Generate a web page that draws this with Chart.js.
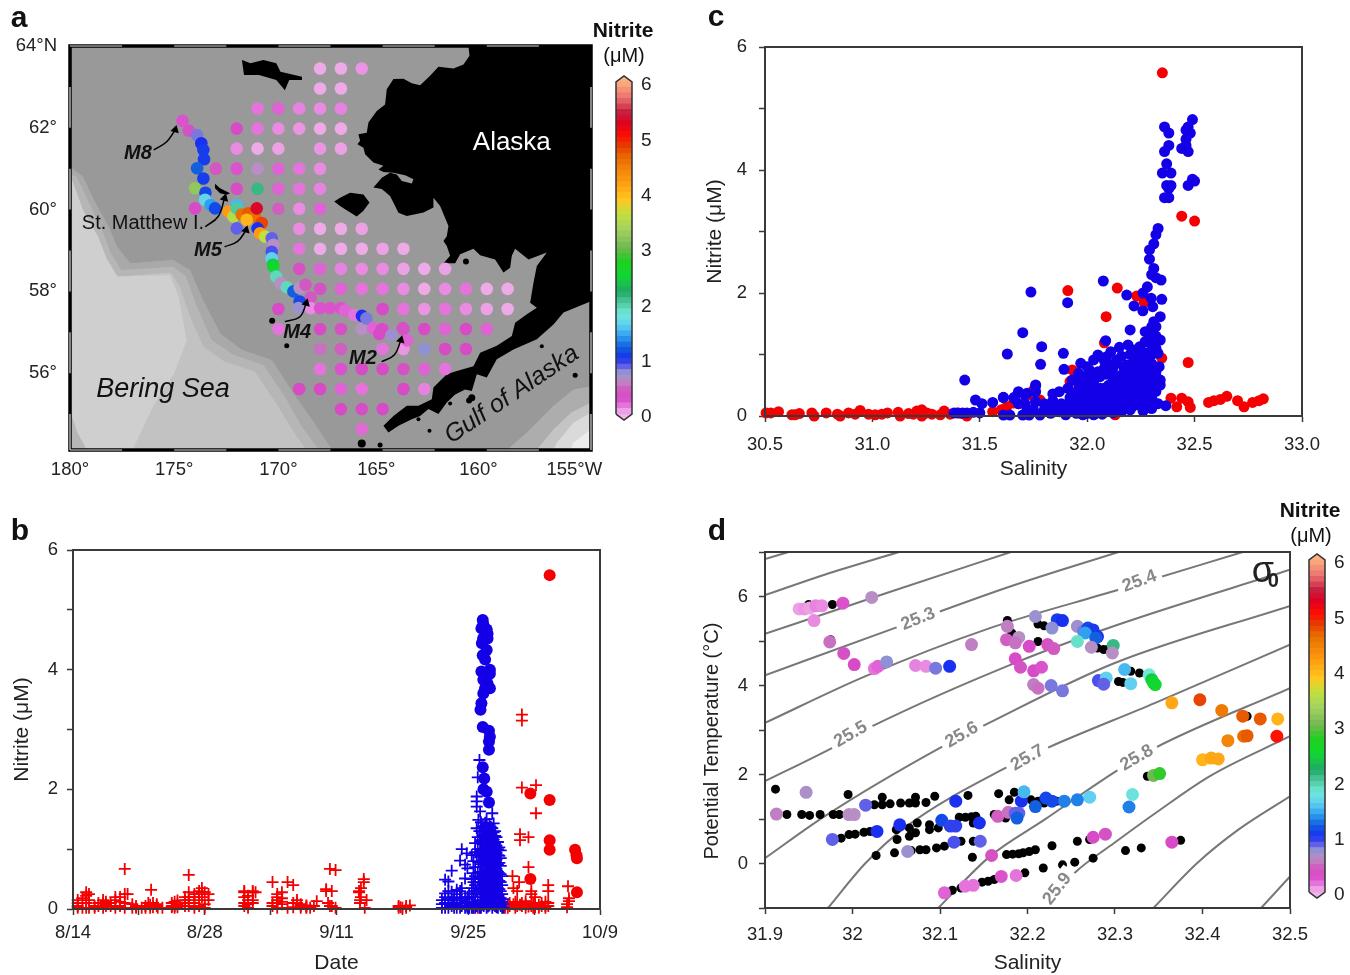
<!DOCTYPE html>
<html>
<head>
<meta charset="utf-8">
<style>
  html, body { margin: 0; padding: 0; background: #fff; }
  #page { position: relative; width: 1350px; height: 975px; overflow: hidden; }
  canvas { position: absolute; }
</style>
<script src="https://cdn.jsdelivr.net/npm/chart.js@4/dist/chart.umd.js"></script>
</head>
<body>
<div id="page"></div>
<script>
// colour scale of nitrite (uM)
const cmapValues = [0, 0.15, 0.28, 0.45, 0.6, 0.75, 0.85, 1.0, 1.2, 1.4, 1.6, 1.8, 2.0, 2.2, 2.5, 2.75, 3.0, 3.3, 3.6, 3.85, 4.2, 4.6, 4.85, 5.0, 5.25, 5.45, 5.7, 6.0];
const cmapColors = ['#f0b8ea', '#e474dc', '#d848c8', '#d060c0', '#b88fc4', '#9090d4', '#6060e8', '#1a30f0', '#1060e0', '#30a0f0', '#60d0f0', '#70e8d8', '#50c8a0', '#20a868', '#10d830', '#20d020', '#70b850', '#a0d060', '#c0e040', '#ffc820', '#ff9a10', '#e87000', '#e83800', '#ff1000', '#e00020', '#c82040', '#e87070', '#ffb080'];
const barTicks = [0, 1, 2, 3, 4, 5, 6];

// panel a: stations, [lat, [[lon, nitrite], ...]]
const gridRows = [
  [63.45, [[168, .03], [167, .03], [166, .08]]],
  [62.96, [[168, .03], [167, .03]]],
  [62.47, [[171, .15], [170, .2], [169, .12], [168, .1], [167, .12]]],
  [61.98, [[172, .3], [171, .15], [170, .1], [169, .08], [168, .03], [167, .03]]],
  [61.49, [[172, .1], [171, .03], [170, .05], [168, .08], [167, .05]]],
  [61.0, [[173, .4], [172, .25], [171, .6], [170, .2], [169, .15], [168, .1]]],
  [60.51, [[172, .32], [171, 2.1], [170, .2], [169, .15], [168, .12]]],
  [60.02, [[170, .45], [169, .1], [168, .2]]],
  [59.53, [[169, .1], [168, .03], [167, .03], [166, .05]]],
  [59.04, [[169, .15], [168, .03], [167, .03], [166, .03], [165, .05], [164, .03]]],
  [58.55, [[169, .35], [168, .2], [167, .12], [166, .1], [165, .1], [164, .05], [163, .03], [162, .05]]],
  [58.06, [[168, .35], [167, .2], [166, .15], [165, .15], [164, .1], [163, .03], [162, .1], [161, .15], [160, .03], [159, .03]]],
  [57.57, [[170, .3], [165, .3], [164, .15], [163, .08], [162, .15], [161, .1], [160, .05], [159, .03]]],
  [57.08, [[170, .15], [168, .3], [167, .35], [166, .6], [165, .25], [164, .35], [163, .3], [162, .2], [161, .3], [160, .2]]],
  [56.59, [[168, .5], [167, .45], [165, .15], [164, .08], [163, .75], [162, .3], [161, .3]]],
  [56.1, [[168, .15], [167, .25], [166, .3], [165, .3], [164, .35], [163, .2], [162, .15]]],
  [55.61, [[169, .3], [168, .3], [167, .2], [166, .15], [164, .3], [163, .12]]],
  [55.12, [[167, .3], [166, .32], [165, .3]]],
  [54.63, [[166, .18]]]
];
// panel a: the transect M8 to M2
const transectLon = [174.6, 174.3, 173.9, 173.7, 173.6, 173.57, 173.9, 173.6, 174, 173.5, 173.52, 173.25, 173.04, 174, 172.4, 172.16, 172, 172, 171.76, 171.44, 171.12, 171.52, 171.04, 170.8, 172, 171, 170.88, 170.64, 170.32, 170.24, 170.32, 170.32, 170.26, 170.24, 170.11, 169.9, 169.6, 169.28, 168.98, 168.7, 168.45, 168.98, 169.04, 168.45, 168.0, 167.52, 167.0, 166.8, 166.35, 165.99, 165.78, 165.46, 165.06, 165.16, 164.58, 164.03, 163.82];
const transectLat = [62.17, 61.93, 61.82, 61.62, 61.46, 61.23, 61.01, 60.76, 60.52, 60.41, 60.24, 60.11, 60.03, 60.03, 59.95, 59.83, 60.11, 60.03, 59.88, 59.91, 59.83, 59.75, 60.03, 59.67, 59.54, 59.54, 59.42, 59.34, 59.3, 59.14, 58.97, 58.81, 58.65, 58.61, 58.36, 58.2, 58.1, 58.0, 58.08, 58.16, 57.85, 57.75, 57.59, 57.59, 57.59, 57.59, 57.59, 57.53, 57.42, 57.4, 57.34, 57.1, 57.06, 56.96, 56.93, 57.1, 56.8];
const transectNitrite = [.25, .35, .8, 1.0, 1.05, 1.05, 1.2, 1.05, 3.2, 1.1, 1.65, 1.4, 1.1, .3, 4.2, 3.5, 1.5, 2.0, 4.6, 4.7, 4.6, 4.0, 5.3, 4.8, .85, 1.0, 4.2, 3.6, .85, .6, .9, 1.6, 2.4, 2.5, 1.9, .6, 1.9, 1.2, .6, .4, .4, 1.1, .7, .1, .25, .25, .25, .2, .15, 1.0, .8, .2, .3, .3, .7, .35, .2];

// panel a: land and bathymetry outlines [lon, lat]
const alaskaCoast = [[160.88, 64], [160.83, 63.76], [161.12, 63.55], [161.6, 63.45], [162.32, 63.49], [162.72, 63.27], [163.2, 63.04], [163.6, 63.09], [164, 63.2], [164.48, 63.19], [164.8, 62.94], [164.88, 62.57], [165.28, 62.41], [165.68, 62.13], [165.76, 61.88], [166.16, 61.84], [166.08, 61.68], [166.21, 61.6], [165.92, 61.51], [165.84, 61.35], [165.44, 61.15], [164.96, 61.07], [165.2, 60.98], [164.96, 60.92], [164.48, 60.9], [163.92, 60.84], [163.52, 60.74], [163.6, 60.64], [164.08, 60.7], [164.32, 60.86], [164.64, 60.9], [165.04, 60.78], [165.44, 60.54], [165.04, 60.5], [164.64, 60.33], [164.24, 59.92], [163.84, 59.84], [163.04, 59.93], [162.56, 60.05], [162.56, 60.29], [162.24, 60.09], [161.84, 59.6], [161.92, 59.35], [162.08, 59.23], [161.92, 59.11],
  [161.76, 58.87], [162.08, 58.69], [161.52, 58.69], [161.28, 58.91], [160.64, 59.04], [160.32, 58.88], [159.6, 58.78], [159.2, 58.46], [158.88, 58.58], [158.8, 58.87], [158.64, 59.04], [158, 58.78], [157.12, 58.95], [157.6, 58.62], [157.76, 58.21], [157.92, 57.72], [157.6, 57.6], [158.08, 57.44], [158.64, 57.23], [158.8, 56.91], [159.52, 56.67], [160.32, 56.5], [160.64, 56.17], [161.44, 56.05], [161.92, 55.97], [162.56, 55.65], [162.64, 55.36], [163.28, 55.2], [163.84, 55.2], [164.48, 54.95], [164.96, 54.71], [164.72, 54.55], [164.24, 54.71], [163.6, 54.87], [163.2, 54.95], [162.8, 55.12], [162.32, 55], [161.92, 55.28], [161.52, 55.48], [161.04, 55.6], [160.72, 55.56], [160.48, 55.97], [160, 55.89], [159.52, 56.34], [158.72, 56.58], [157.6, 56.83], [156.8, 57.19], [156.32, 57.48], [155, 57.76], [155, 64]];
const stLawrence = [[171.75, 63.66], [171.34, 63.58], [170.72, 63.66], [170.1, 63.58], [169.9, 63.37], [168.87, 63.25], [168.87, 63.17], [169.48, 63.17], [169.69, 62.92], [170.1, 63.17], [170.93, 63.29], [171.65, 63.29]];
const nunivak = [[167.32, 60.2], [167.04, 60.29], [166.56, 60.41], [165.92, 60.37], [165.63, 60.17], [165.92, 59.97], [166.24, 59.83], [166.8, 60.01], [167.04, 60.09]];
const stMatthew = [[173.04, 60.63], [172.8, 60.52], [172.32, 60.4], [172.48, 60.36], [172.8, 60.4], [173.04, 60.52]];
const smallIslesLon = [170.3, 169.6, 166, 165.12, 162.75, 163.28, 160.72, 160.85, 161.76, 161, 157.36, 155.76];
const smallIslesLat = [57.28, 56.67, 54.28, 54.24, 54.59, 54.87, 55.4, 55.33, 55.26, 58.73, 56.66, 55.95];
const smallIslesSize = [3, 2.5, 4, 2.5, 2, 2, 3.5, 3, 2, 3, 2, 2.5];
const slopeBand1 = [[180, 61.05], [179.38, 60.81], [178.76, 60.15], [178.14, 59.58], [177.73, 59.09], [177.11, 58.69], [175.05, 58.77], [174.23, 58.52], [173.61, 57.79], [172.78, 56.97], [171.75, 56.57], [170.31, 56.32], [169.28, 55.51], [168.25, 54.77], [167.42, 54.12], [180, 54.12]];
const slopeBand2 = [[180, 60.85], [179.69, 60.81], [179.07, 60.15], [178.45, 59.5], [178.04, 58.93], [177.53, 58.52], [175.05, 58.6], [174.43, 58.36], [173.92, 57.63], [173.2, 56.81], [172.16, 56.45], [170.72, 56.2], [169.69, 55.43], [168.87, 54.69], [168.04, 54.12], [180, 54.12]];
const slopeBand3 = [[179.9, 60.72], [179.38, 59.99], [178.66, 59.34], [178.25, 58.81], [177.73, 58.36], [175.15, 58.46], [174.74, 58.12], [174.23, 57.38], [173.61, 56.65], [172.58, 56.28], [171.13, 56.04], [170.1, 55.26], [169.28, 54.57], [168.66, 54.12], [179.18, 54.12], [179.63, 54.53], [179.9, 54.94]];
const slopeBand4 = [[179.9, 60.72], [179.38, 59.99], [178.66, 59.34], [178.25, 58.81], [177.73, 58.36], [175.2, 58.4], [174.8, 57.9], [174.4, 56.8], [175, 56], [176, 55.2], [177, 54.12], [179.18, 54.12], [179.63, 54.53], [179.9, 54.94]];
const gulfBand1 = [[155, 55.68], [155.84, 55.6], [156.8, 55.2], [158.08, 54.55], [159.04, 54.12], [155, 54.12]];
const gulfBand2 = [[155, 55.28], [155.96, 55.03], [156.8, 54.63], [157.6, 54.12], [155, 54.12]];
const gulfBand3 = [[155, 55.03], [155.84, 54.79], [156.64, 54.3], [156.8, 54.12], [155, 54.12]];
const gulfBand4 = [[155, 54.63], [155.84, 54.3], [156, 54.12], [155, 54.12]];
const mapBox = [[180, 64], [155, 64], [155, 54.12], [180, 54.12]];
const mapArrows = [
  [[175.98, 61.46], [175.36, 61.66], [174.95, 61.95]],
  [[173.51, 59.58], [172.89, 59.83], [172.58, 60.28]],
  [[172.58, 59.09], [171.96, 59.22], [171.55, 59.5]],
  [[169.69, 57.26], [168.97, 57.38], [168.66, 57.71]],
  [[165.05, 56.28], [164.43, 56.45], [164.12, 56.81]]
];
const lonTicks = [180, 175, 170, 165.3, 160.4, 155.8];
const lonLabels = ['180°', '175°', '170°', '165°', '160°', '155°W'];
const latTicks = [64, 62, 60, 58, 56];
const latLabels = ['64°N', '62°', '60°', '58°', '56°'];

// panel b: days since 8/14, [day, [nitrite, ...]]
const dateLabels = ['8/14', '8/28', '9/11', '9/25', '10/9'];
const redCrossByDay = [
  [.5, [.02, .1, .15, .05]], [1, [.02, .18]], [1.4, [.28, .22, .1, .02]], [1.7, [.02, .15, .25]], [2.3, [.02, .05]], [2.7, [.05, .1]], [3.2, [.02, .1, .15]], [3.5, [.05, .12, .08]], [4, [.1, .05]],
  [4.5, [.02, .15, .2]], [5, [.05, .2, .12]], [5.5, [.02, .25, .1, .67]], [5.8, [.25]], [6.3, [.08, .02]], [6.7, [.05, .02]], [7.3, [.02]], [7.7, [.05, .02]], [8, [.1]], [8.2, [.02, .07]], [8.3, [.32]], [8.5, [.03, .1]], [8.9, [.05, .08]], [9, [.02]], [9.5, [.02]],
  [10.5, [.03, .05, .1]], [10.8, [.12, .02, .05]], [11.1, [.08, .03, .14]], [11.9, [.05, .1, .15, .2]], [12.3, [.57, .28, .2, .1, .05, .15]], [12.9, [.02, .1, .2, .25]], [13.4, [.05, .15, .3, .25]], [13.7, [.35, .2, .28]], [14, [.02, .08, .28]], [14.4, [.25, .15]],
  [18.2, [.05, .1, .2, .28, .3]], [18.6, [.02, .08, .15, .22]], [19.1, [.15, .28, .3, .1]], [19.4, [.28]], [21.2, [.05, .1, .45]], [21.7, [.02, .1, .15, .2, .25]], [22.2, [.08, .12, .28, .18]], [22.8, [.02, .45]], [23.4, [.03, .1, .4]], [23.8, [.1, .15]], [24.2, [.02, .05, .08]], [24.8, [.02, .04, .06]], [25.2, [.02]], [25.6, [.05]], [25.9, [.13]],
  [26.9, [.33, .3]], [27.1, [.1]], [27.3, [.05, .67]], [27.5, [.05, .3]], [27.9, [.65, .02]], [30.4, [.28, .3]], [30.5, [.1, .15]], [30.6, [.35, .2]], [30.9, [.45, .5]], [31, [.02]], [31.2, [.15]],
  [34.6, [.02, .05]], [34.8, [.03]], [35, [.02]], [35.4, [.02, .05]], [35.8, [.06]], [42.5, [.02, .05]], [43, [.02]], [43.3, [.03]],
  [45.9, [.02, .05]], [46.2, [.08, .02]], [46.4, [.05, .1]], [46.7, [.55]], [46.8, [.35, .08]], [47, [.02, .12]], [47.2, [.3, .1, .05]], [47.4, [.45]], [47.5, [1.25, 1.15, .07]], [47.7, [3.25, 3.15, 2.03, .1, .05]], [48.1, [.02, .08, .13]], [48.4, [1.2, .7, .04]], [48.7, [.3, .25, .05]], [48.9, [.09, .02]], [49.1, [.2, .1, .03]], [49.2, [2.07, 1.6]], [49.5, [.07, .02]], [49.8, [.05, .1]], [50.2, [.05, .02, .12]], [50.5, [.4, .3, .1, .05]], [52.5, [.08, .03]], [52.6, [.38]], [52.7, [.18, .13]]
];
const blueCrossByDay = [
  [39.2, [.02, .08, .15]], [39.54, [.02, .1, .2, .26, .49]], [39.89, [.02, .1, .17, .3, .46]], [40.24, [.05, .15, .29, .64]], [40.5, [.02, .08, .14, .2]], [40.78, [.02, .1, .25, .32]], [41.13, [.02, .1, .18, .3, .81]], [41.31, [1.0, .35, .15, .05]], [41.66, [.74, .51, .02, .1, .2]], [41.84, [.93, .12, .06]], [41.91, [.68, .2, .02]], [42.1, [.02, .09, .17, .26]], [42.37, [.9, .35, .02, .12, .2, .5]], [42.55, [.02, .08, .3, .45, .6, .8]],
  [42.73, [1.1, .95, .7, .55, .4, .25, .1, .02]], [42.9, [1.88, 1.8, 1.71, 1.35, .9, .3, .05]], [43.01, [2.2, 1.2, 1.0, .6, .15]], [43.08, [1.49, .78, .45]], [43.19, [2.49, 1.3, .92, .52, .02]], [43.26, [1.63, 1.12, .7, .33, .1]],
  [43.35, [.02, .1, .2, .35, .5, .62, .75, .88, 1.0, 1.15, 1.3, 1.45]], [43.5, [.07, .26, .43, .58, .8, .97, 1.09, 1.23, 1.38]], [43.65, [.05, .14, .28, .4, .55, .7, .82, .95, 1.08, 1.2, 1.35]], [43.8, [.11, .22, .37, .5, .66, .79, .91, 1.03, 1.17, 1.31, 1.44]], [43.95, [.02, .1, .22, .33, .48, .6, .72, .85, .98, 1.1, 1.25, 1.4, 1.5]], [44.1, [.04, .17, .31, .46, .59, .74, .87, 1.0, 1.14, 1.27]],
  [44.25, [.06, .18, .3, .42, .52, .65, .78, .9, 1.02, 1.18, 1.3, 1.42]], [44.4, [.09, .24, .36, .49, .63, .76, .84, .97, 1.11, 1.24, 1.37]], [44.55, [.02, .12, .25, .38, .5, .6, .7, .8, .92, 1.05, 1.2, 1.35, 1.6]], [44.7, [.07, .2, .34, .46, .57, .73, .86, 1.0, 1.16, 1.28, 1.43]], [44.85, [.05, .15, .28, .4, .55, .68, .8, .95, 1.1, 1.22, 1.3]], [45, [.03, .13, .26, .41, .53, .67, .83, .94, 1.06, 1.2]],
  [45.15, [.02, .1, .22, .35, .48, .62, .75, .9, 1.0, 1.12]], [45.3, [.08, .19, .33, .47, .6, .77, .89, 1.03]], [45.45, [.05, .18, .3, .45, .58, .72, .85, .98]], [45.6, [.02, .12, .25, .4, .55]], [45.75, [.02, .08, .16]]
];
const blueCircleDay = [43.54, 43.4, 43.6, 43.96, 44.05, 43.58, 44.05, 43.45, 43.96, 43.54, 43.79, 43.4, 44.3, 43.79, 44.3, 43.6, 44.05, 44.3, 43.79, 43.6, 43.4, 43.3, 43.54, 44.2, 44.3, 44.2, 44.2, 43.54, 43.7, 43.62, 43.96, 44.2];
const blueCircleNitrite = [4.83, 4.69, 4.76, 4.67, 4.6, 4.52, 4.52, 4.44, 4.33, 4.24, 4.17, 3.97, 4.0, 3.94, 3.93, 3.83, 3.77, 3.69, 3.69, 3.6, 3.44, 3.33, 3.04, 2.98, 2.88, 2.8, 2.66, 2.37, 2.18, 2.0, 1.96, 1.78];
const redCircleDay = [50.65, 50.65, 50.65, 50.65, 48.6, 48.6, 53.35, 53.5, 53.55, 53.55];
const redCircleNitrite = [5.58, 1.82, 1.15, .99, 1.93, .5, .99, .9, .85, .28];

// panel c: salinity against nitrite
const redSalinity = [30.505, 30.527, 30.563, 30.625, 30.64, 30.66, 30.718, 30.729, 30.785, 30.837, 30.85, 30.889, 30.92, 30.943, 30.982, 31.013, 31.044, 31.07, 31.12, 31.129, 31.168, 31.191, 31.207, 31.23, 31.23, 31.254, 31.277, 31.316, 31.334, 31.362, 31.393, 31.417, 31.44, 31.56, 31.6, 31.625, 31.656, 31.68, 31.73, 31.75, 31.78, 31.83, 31.87, 31.93, 31.92, 31.94, 32.03, 32.06, 32.09, 32.08, 32.088, 32.14, 32.23, 32.265, 31.91, 32.13, 32.176, 32.215, 32.347, 32.39, 32.417, 32.44, 32.47, 32.48, 32.565, 32.35, 32.44, 32.5, 32.47, 32.59, 32.62, 32.65, 32.7, 32.73, 32.77, 32.8, 32.82];
const redSalNitrite = [.05, .05, .07, .02, .02, .04, .05, 0, .05, .03, 0, .05, .03, .09, .03, .02, .03, .05, .06, 0, .04, .03, .08, .1, 0, .05, .03, .02, .08, .03, .05, .04, 0, .07, .1, .15, .21, .2, .34, .42, .26, .18, .1, .75, .56, .07, .37, .32, .29, 1.19, 1.615, 2.08, 1.95, 1.85, 2.04, .02, .61, .64, .94, .29, .15, .29, .23, .14, .22, 5.58, 3.25, 3.17, .87, .25, .27, .32, .25, .15, .22, .25, .28];
const blueSparseSal = [31.38, 31.4, 31.42, 31.44, 31.47, 31.5, 31.43, 31.48, 31.51, 31.56, 31.61, 31.66, 31.76, 31.628, 31.7, 31.738, 31.783, 31.788, 31.889, 31.892, 31.909, 32.075, 32.184, 32.218, 32.259, 32.298, 32.305, 32.347, 32.344, 32.2, 32.086,
  32.49, 32.47, 32.48, 32.46, 32.46, 32.44, 32.46, 32.47, 32.36, 32.38, 32.38, 32.36, 32.37, 32.39, 32.35, 32.39, 32.38, 32.37, 32.36, 32.38, 32.49, 32.5, 32.47, 32.33, 32.32, 32.31, 32.29, 32.29, 32.31, 32.3, 32.32, 32.28, 32.26, 32.366];
const blueSparseNitrite = [.05, .05, .05, .05, .06, .05, .585, .26, .2, .22, .3, .3, .49, 1.008, 1.355, 2.016, .84, 1.127, 1.019, .759, 1.843, 2.195, 1.967, 1.789, 1.71, 1.913, 1.778, 1.897, 2.21, 1.4, 1.225,
  4.82, 4.7, 4.6, 4.65, 4.5, 4.35, 4.4, 4.3, 4.7, 4.6, 4.4, 4.3, 4.1, 3.95, 3.95, 3.75, 3.7, 3.75, 3.55, 3.55, 3.85, 3.82, 3.75, 3.05, 2.95, 2.8, 2.7, 2.55, 2.4, 2.3, 2.25, 2.1, 2.0, .168];
// the dense part of panel c, read as chains of dots
const blueCloudSal = [31.61, 31.64, 31.7, 31.73, 31.78, 31.83, 31.87, 31.92, 31.97, 32.01, 32.06, 32.11, 32.15, 32.19, 32.22, 31.95, 32, 32.04, 32.09, 32.13, 32.17, 32.21, 31.9, 31.98, 32.03, 32.07, 32.12, 32.16,
  31.61, 31.66, 31.68, 31.71, 31.71, 31.76, 31.76, 31.76, 31.84, 31.87, 31.91, 31.95, 31.98, 31.98, 32.03, 32.08, 31.94, 31.91, 31.84, 31.8, 31.75,
  31.97, 32, 31.96, 31.98, 32.01, 32.03, 32.05, 32.09, 32.11, 32.15, 32.19, 32.215, 32.245, 32.27, 32.27, 32.31, 32.34, 32.32, 32.34, 32.33, 32.335, 32.34, 32.34,
  32.106, 32.137, 32.185, 32.22, 32.245, 32.277, 32.106, 32.06, 32.03, 31.96, 32, 31.93, 32.13, 32.176, 32.215, 32.246, 32.277, 32.3, 32.153, 32.2, 32.12, 32.106, 32.238, 32.277, 32.184, 32.223, 32.277, 32.293,
  32.06, 32.1, 32.03, 32, 32.15, 32.25, 32.28, 32.25, 32.27, 32.29, 32.2, 32.18, 32.12, 32.08, 31.66, 31.68, 31.72, 31.82, 31.85, 31.76,
  31.86, 31.89, 31.93, 31.96, 31.99, 32.02, 32.05, 32.08, 32.1, 32.14, 32.18, 32.2, 32.24, 32.26, 32.28, 32.3, 32.26, 32.3, 32.32, 32.33, 32.18, 32.14, 32.1, 32.05, 32.24, 32.22, 32.18, 32.14, 32.03, 32, 32.05, 32.09, 32.12, 32.15, 32.18, 32.22, 32.26, 32.3, 32.32, 32.3, 32.27, 32.24, 32.27, 32.3, 32.3, 32.32, 32.29, 32.32, 32.3, 32.2, 32.16, 32.13, 32.24, 32.17, 32.08, 31.96, 31.99, 32.02, 31.92, 31.88, 31.84, 31.8, 31.72,
  31.98, 32, 32.04, 32.07, 32.11, 32.16, 32.19, 32.23, 32.26, 32.29, 32.31, 32.12, 32.16, 32.2, 32.25, 32.28, 32.31, 32.33, 32.07, 32.12, 32.04, 32.17, 32.21, 32.25, 32.29, 32.27];
const blueCloudNitrite = [.016, .016, .016, .016, .016, .043, .07, .098, .125, .152, .179, .206, .233, .26, .287, .043, .043, .043, .07, .098, .125, .152, .02, .02, .02, .03, .05, .07,
  .304, .287, .396, .341, .195, .504, .396, .233, .358, .396, .45, .369, .341, .233, .26, .45, .233, .179, .152, .098, .098,
  .856, .802, .694, .64, .748, .911, .992, .965, 1.046, 1.117, 1.155, 1.073, 1.128, 1.209, 1.371, 1.534, 1.615, 1.453, 1.236, 1.019, .802, .585, .504,
  .829, .911, .829, .911, .802, .911, .721, .64, .558, .558, .504, .585, .504, .477, .531, .558, .558, .558, .369, .396, .287, .369, .423, .504, .585, .667, .287, .297,
  .45, .5, .4, .3, .65, .7, .7, .3, .4, .45, .7, .72, .78, .78, .3, .2, .37, .1, .08, .23,
  .1, .06, .14, .2, .1, .24, .12, .2, .12, .17, .22, .1, .18, .08, .2, .12, .24, .3, .4, .2, .33, .3, .35, .33, .33, .4, .42, .43, .65, .62, .72, .68, .62, .58, .62, .6, .62, .64, .72, .85, .78, .9, 1.03, 1.0, 1.15, 1.1, 1.3, 1.3, 1.45, 1.0, .97, .85, 1.02, .8, .9, .45, .43, .47, .3, .2, .25, .2, .12,
  .16, .22, .16, .26, .27, .27, .33, .26, .15, .28, .22, .4, .38, .47, .5, .35, .5, .6, .38, .42, .3, .7, .75, .85, .62, .9];

// panel d: density contours [salinity, temperature]
const sigmaLines = [
  [[31.9, 6.84], [31.927, 7]],
  [[31.9, 6.03], [31.968, 6.49], [32.053, 7]],
  [[31.9, 5.16], [32.039, 6.08], [32.181, 7]],
  [[31.9, 4.23], [32.048, 5.29], [32.181, 6.23], [32.304, 7]],
  [[31.9, 3.16], [32.015, 4.21], [32.157, 5.29], [32.304, 6.15], [32.446, 7]],
  [[31.9, 1.85], [31.977, 2.6], [32.022, 3.08], [32.186, 4.51], [32.304, 5.37], [32.5, 6.6]],
  [[31.9, .12], [31.968, 1.06], [32.1, 2.6], [32.148, 3.08], [32.299, 4.5], [32.5, 5.79]],
  [[31.972, -1], [32.015, .01], [32.062, .84], [32.178, 2.18], [32.223, 2.6], [32.346, 3.61], [32.5, 4.92]],
  [[32.098, -1], [32.157, .16], [32.219, .98], [32.304, 2.11], [32.346, 2.6], [32.5, 3.94]],
  [[32.219, -1], [32.254, -.21], [32.299, .46], [32.346, 1.13], [32.408, 1.96], [32.5, 2.86]],
  [[32.344, -1], [32.394, .01], [32.441, .76], [32.5, 1.51]],
  [[32.467, -1], [32.5, -.29]]
];
const sigmaLabels = ['25.3', '25.4', '25.5', '25.6', '25.7', '25.8', '25.9'];
const sigmaLabelSal = [32.075, 32.328, 31.998, 32.125, 32.2, 32.325, 32.234];
const sigmaLabelTemp = [5.49, 6.34, 2.9, 2.89, 2.37, 2.37, -.57];
const sigmaLabelAngle = [-22, -20, -30, -30, -30, -30, -52];

const blackSal = [31.912, 31.925, 31.942, 31.951, 31.963, 31.978, 31.985, 31.995, 32.034, 32.025, 32.034, 32.043, 32.055, 32.065, 32.072, 32.072, 32.084, 32.094, 32.132, 32.167, 32.179, 32.185, 32.204, 32.212, 32.219, 32.233, 31.987, 31.996, 32.003, 32.013, 32.02, 32.05, 32.065, 32.074, 32.051, 32.065, 32.072, 32.088, 32.088, 32.098, 32.11, 32.122, 32.129, 32.136, 32.141, 32.138, 32.162, 32.175, 32.027, 32.048, 32.067, 32.077, 32.084, 32.096, 32.105, 32.124, 32.138, 32.137, 32.176, 32.183, 32.19, 32.195, 32.202, 32.209, 32.228, 32.257, 32.271, 32.312, 32.33, 32.375, 32.114, 32.124, 32.148, 32.155, 32.162, 32.197, 32.218, 32.24, 32.254, 32.275, 31.95, 31.977, 31.975, 32.177, 32.182, 32.212, 32.219, 32.212, 32.28, 32.287, 32.292, 32.318, 32.328, 32.304, 32.309, 32.451, 32.337];
const blackTemp = [1.67, 1.1, 1.1, 1.08, 1.1, 1.1, 1.1, 1.55, 1.49, 1.32, 1.32, 1.34, 1.36, 1.36, 1.49, 1.36, 1.37, 1.51, 1.53, 1.57, 1.43, 1.6, 1.43, 1.4, 1.36, 1.4, .57, .65, .66, .7, .72, .76, .8, .91, .54, .61, .69, .87, .76, .8, .82, 1.04, 1.04, 1.05, 1.06, .91, 1.1, 1.02, .18, .24, .29, .31, .31, .35, .39, .5, .5, .14, .2, .21, .22, .24, .27, .31, .4, .5, .54, .29, .35, .52, -.6, -.55, -.42, -.4, -.36, -.21, -.1, -.03, .03, .12, 5.82, 5.82, 5.03, 5.46, 5.18, 5.38, 5.34, 4.99, 4.84, 4.81, 4.81, 4.32, 4.28, 4.09, 4.07, 3.31, 1.96];
const dotSal = [31.939, 31.945, 31.951, 31.958, 31.965, 31.989, 32.022, 31.956, 31.974, 31.99, 32.002, 32.025, 32.029, 32.039, 32.072, 32.084, 32.095, 32.111, 32.136, 32.177, 32.209, 32.234, 32.24, 32.228, 32.176, 32.19, 32.186, 32.202, 32.223, 32.23, 32.186, 32.192, 32.207, 32.216, 32.207, 32.212, 32.227, 32.24, 32.257, 32.264, 32.269, 32.275, 32.266, 32.28, 32.278, 32.257, 32.273, 32.298, 32.297, 32.311, 32.281, 32.29, 32.287, 32.318, 32.339, 32.342, 32.344, 32.346, 32.365, 32.397, 32.422, 32.446, 32.466, 32.486, 32.447, 32.451, 32.429, 32.485, 32.4, 32.41, 32.418, 32.344, 32.351, 32.32, 32.316, 32.271, 32.257, 32.242, 32.228, 32.221, 32.209, 32.193, 32.196, 32.118, 32.015, 31.947, 31.913, 31.996, 32.002, 31.977, 32.028, 32.054, 32.102, 32.112, 32.118, 32.145, 32.166, 32.178, 32.186, 32.19, 32.188, 32.063, 32.116, 32.146, 32.159, 32.275, 32.289, 32.365, 32.105, 32.129, 32.138, 32.17, 32.187];
const dotTemp = [5.72, 5.72, 5.74, 5.79, 5.79, 5.85, 5.98, 5.46, 4.98, 4.72, 4.47, 4.38, 4.43, 4.53, 4.45, 4.43, 4.39, 4.43, 4.92, 5.33, 5.55, 5.48, 5.46, 5.29, 5.03, 5.08, 4.96, 4.88, 4.92, 4.83, 4.6, 4.41, 4.33, 4.41, 4.02, 3.94, 4.0, 3.88, 5.33, 5.22, 5.29, 5.25, 5.18, 5.1, 5.07, 4.99, 4.86, 4.9, 4.73, 4.36, 4.11, 4.17, 4.03, 4.04, 4.24, 4.13, 4.06, 4.02, 3.61, 3.68, 3.44, 3.31, 3.25, 3.25, 2.86, 2.87, 2.76, 2.86, 2.33, 2.37, 2.35, 1.98, 2.02, 1.55, 1.27, 1.49, 1.43, 1.4, 1.4, 1.47, 1.28, 1.4, 1.61, 1.4, 1.31, 1.6, 1.11, 1.1, 1.1, .54, .72, .87, .97, .84, .84, .91, 1.06, 1.15, 1.13, 1.13, 1.02, .27, .48, .5, .18, .59, .66, .48, -.66, -.51, -.49, -.29, -.27];
const dotNitrite = [.05, .08, .05, .12, .1, .25, .6, .1, .5, .35, .3, .15, .2, .75, .12, .1, .8, 1.0, .55, .55, .7, 1.05, 1.0, .75, .45, .6, .5, .3, .35, .4, .3, .35, .3, .25, .55, .5, .8, .8, .7, .8, 1.1, 1.05, 1.4, 1.0, 1.2, 1.85, .6, 2.1, .6, 1.5, .9, 1.6, .85, 1.6, 1.8, 2.4, 2.5, 2.5, 4.1, 4.8, 4.5, 4.7, 4.7, 4.0, 4.6, 4.7, 4.4, 5.0, 4.0, 4.1, 4.1, 3.0, 2.8, 1.75, 1.3, 1.6, 1.3, 1.3, 1.1, 1.1, 1.2, 1.0, 1.5, 1.0, .85, .65, .55, .6, .6, .85, 1.0, 1.0, 1.1, .95, .95, 1.0, .45, .5, .85, .85, 1.2, .7, .9, .85, .35, .3, .35, .3, .2, .15, .15, .25, .15];

const axisColor = '#3a3a3a';
const tickFont = { family: '"Liberation Sans"', size: 18.5 };
const titleFont = { family: '"Liberation Sans"', size: 21 };

function hexToRgb(h) {
  return [1, 3, 5].map(i => parseInt(h.substr(i, 2), 16));
}

function nitriteColor(v) {
  let i = 0;
  while (i < cmapValues.length - 2 && v > cmapValues[i + 1]) i++;
  const t = Math.max(0, Math.min(1, (v - cmapValues[i]) / (cmapValues[i + 1] - cmapValues[i])));
  const a = hexToRgb(cmapColors[i]), b = hexToRgb(cmapColors[i + 1]);
  return 'rgb(' + a.map((c, k) => Math.round(c + (b[k] - c) * t)).join(',') + ')';
}

function pairsToPoints(pairs) {
  return pairs.map(p => ({ x: p[0], y: p[1] }));
}

function zipPoints(xs, ys) {
  return xs.map((x, i) => ({ x: x, y: ys[i] }));
}

function columnsToPoints(cols) {
  const out = [];
  cols.forEach(c => c[1].forEach(v => out.push({ x: c[0], y: v })));
  return out;
}

function polygon(pairs, color, order) {
  return { type: 'line', data: pairsToPoints(pairs), fill: 'shape', backgroundColor: color, borderColor: color, borderWidth: 0, pointRadius: 0, order: order };
}

// frame on the two sides that have no axis, and free text placed in data units
const panelPlugin = {
  id: 'panel',
  afterDatasetsDraw(chart, args, opts) {
    const ctx = chart.ctx, a = chart.chartArea;
    const sx = chart.scales.x, sy = chart.scales.y;
    (opts.boxes || []).forEach(b => {
      ctx.save();
      ctx.translate(sx.getPixelForValue(b.x), sy.getPixelForValue(b.y));
      ctx.rotate(b.angle * Math.PI / 180);
      ctx.fillStyle = '#fff';
      ctx.fillRect(-b.w / 2, -10, b.w, 20);
      ctx.restore();
    });
    if (opts.fancyFrame) {
      ctx.save();
      ctx.strokeStyle = '#000';
      ctx.lineWidth = 3.5;
      ctx.strokeRect(a.left, a.top, a.right - a.left, a.bottom - a.top);
      ctx.strokeStyle = '#ddd';
      ctx.lineWidth = 1.2;
      ctx.setLineDash(opts.fancyFrame[0]);
      ctx.beginPath();
      ctx.moveTo(a.left, a.top); ctx.lineTo(a.right, a.top);
      ctx.moveTo(a.left, a.bottom); ctx.lineTo(a.right, a.bottom);
      ctx.stroke();
      ctx.setLineDash(opts.fancyFrame[1]);
      ctx.lineDashOffset = opts.fancyFrame[1][0];
      ctx.beginPath();
      ctx.moveTo(a.left, a.top); ctx.lineTo(a.left, a.bottom);
      ctx.moveTo(a.right, a.top); ctx.lineTo(a.right, a.bottom);
      ctx.stroke();
      ctx.restore();
    } else if (opts.frame !== false) {
      ctx.save();
      ctx.strokeStyle = axisColor;
      ctx.lineWidth = 2;
      ctx.strokeRect(a.left, a.top, a.right - a.left, a.bottom - a.top);
      ctx.restore();
    }
    (opts.texts || []).forEach(t => {
      ctx.save();
      ctx.translate(sx.getPixelForValue(t.x), sy.getPixelForValue(t.y));
      ctx.rotate((t.angle || 0) * Math.PI / 180);
      ctx.font = t.font;
      ctx.fillStyle = t.color || '#111';
      ctx.textAlign = 'center';
      ctx.textBaseline = 'middle';
      ctx.fillText(t.text, 0, 0);
      ctx.restore();
    });
  }
};

const page = document.getElementById('page');

function clearPadding(s) {
  s.paddingTop = 0;
  s.paddingBottom = 0;
  s.paddingLeft = 0;
  s.paddingRight = 0;
}

// box is the wanted plot area in page pixels, margins leave room for the axes
function addChart(box, margin, config) {
  const c = document.createElement('canvas');
  c.width = box.r - box.l + margin.l + margin.r;
  c.height = box.b - box.t + margin.t + margin.b;
  c.style.left = (box.l - margin.l) + 'px';
  c.style.top = (box.t - margin.t) + 'px';
  page.appendChild(c);
  const o = config.options;
  const onRight = o.scales.y.position === 'right';
  o.responsive = false;
  o.animation = false;
  o.events = [];
  o.layout = { padding: { top: margin.t, bottom: o.scales.x.display === false ? margin.b : 0, right: onRight ? 0 : margin.r, left: onRight ? margin.l : 0 } };
  o.plugins = Object.assign({ legend: { display: false }, tooltip: { enabled: false } }, o.plugins);
  o.scales.x.afterFit = s => { s.height = margin.b; clearPadding(s); };
  o.scales.y.afterFit = s => { s.width = onRight ? margin.r : margin.l; clearPadding(s); };
  config.plugins = [panelPlugin];
  return new Chart(c, config);
}

function sciAxis(min, max, ticks, labelFn, pad, title) {
  const ax = {
    type: 'linear', min: min, max: max,
    afterBuildTicks: s => { s.ticks = ticks.map(v => ({ value: v })); },
    ticks: { autoSkip: false, maxRotation: 0, minRotation: 0, font: tickFont, color: '#222', padding: pad, callback: labelFn },
    grid: { drawOnChartArea: false, color: axisColor, tickLength: 6, tickWidth: 1.5 },
    border: { color: axisColor, width: 2 }
  };
  if (title) ax.title = { display: true, text: title.text, font: titleFont, color: '#222', padding: title.padding };
  return ax;
}

function evenLabel(v) {
  return v % 2 === 0 ? String(v) : '';
}

// ---------- panel a ----------
const gridPoints = [];
const gridColors = [];
gridRows.forEach(row => row[1].forEach(s => {
  gridPoints.push({ x: s[0], y: row[0] });
  gridColors.push(nitriteColor(s[1]));
}));

const mapDatasets = [
  polygon(mapBox, '#999999', 20),
  polygon(slopeBand1, '#a9a9a9', 19), polygon(slopeBand2, '#b6b6b6', 18), polygon(slopeBand3, '#c2c2c2', 17), polygon(slopeBand4, '#cfcfcf', 16),
  polygon(gulfBand1, '#adadad', 19), polygon(gulfBand2, '#c4c4c4', 18), polygon(gulfBand3, '#dadada', 17), polygon(gulfBand4, '#ececec', 16),
  polygon(alaskaCoast, '#000', 10), polygon(stLawrence, '#000', 10), polygon(nunivak, '#000', 10), polygon(stMatthew, '#000', 10),
  { data: zipPoints(smallIslesLon, smallIslesLat), backgroundColor: '#000', pointRadius: smallIslesSize, borderWidth: 0, order: 10 },
  { data: gridPoints, backgroundColor: gridColors, pointRadius: 6.3, borderWidth: 0, order: 6 },
  { data: zipPoints(transectLon, transectLat), backgroundColor: transectNitrite.map(nitriteColor), pointRadius: 6.3, borderWidth: 0, order: 5 }
];
mapArrows.forEach(a => {
  mapDatasets.push({
    type: 'line', data: pairsToPoints(a), borderColor: '#000', backgroundColor: '#000', borderWidth: 1.5, tension: 0.4, order: 1,
    pointRadius: [0, 0, 5], pointStyle: 'triangle', pointRotation: [0, 0, 15], pointBorderWidth: 0
  });
});

addChart({ l: 70, t: 46, r: 591, b: 450 }, { l: 70, t: 10, r: 15, b: 45 }, {
  type: 'scatter',
  data: { datasets: mapDatasets },
  options: {
    plugins: { panel: {
      fancyFrame: [[52.1, 52.1], [40.9, 40.9]],
      texts: [
        { text: 'Alaska', x: 158.8, y: 61.63, font: '26px "Liberation Sans"', color: '#fff' },
        { text: 'Bering Sea', x: 175.54, y: 55.59, font: 'italic 27px "Liberation Sans"' },
        { text: 'Gulf of Alaska', x: 158.8, y: 55.47, angle: -34, font: 'italic 25px "Liberation Sans"' },
        { text: 'St. Matthew I.', x: 176.5, y: 59.65, font: '20px "Liberation Sans"' },
        { text: 'M8', x: 176.74, y: 61.36, font: 'italic bold 20px "Liberation Sans"' },
        { text: 'M5', x: 173.38, y: 58.99, font: 'italic bold 20px "Liberation Sans"' },
        { text: 'M4', x: 169.1, y: 57.0, font: 'italic bold 20px "Liberation Sans"' },
        { text: 'M2', x: 165.94, y: 56.37, font: 'italic bold 20px "Liberation Sans"' }
      ]
    } },
    scales: {
      x: Object.assign(sciAxis(155, 180, lonTicks, (v, i) => lonLabels[i], 1), { reverse: true, grid: { display: false }, border: { display: false } }),
      y: Object.assign(sciAxis(54.12, 64, latTicks, (v, i) => latLabels[i], 5), { grid: { display: false }, border: { display: false } })
    }
  }
});

// ---------- colour bars ----------
function addColorBar(box) {
  const sets = [];
  const step = 0.1;
  for (let k = 0; k < 60; k++) {
    const v = k * step;
    sets.push(polygon([[0, v], [1, v], [1, v + step], [0, v + step]], nitriteColor(v + step / 2), 5));
    sets[k].borderWidth = 1;
  }
  sets.push(polygon([[0, 6], [1, 6], [.5, 6.107]], cmapColors[cmapColors.length - 1], 5));
  sets.push(polygon([[0, 0], [1, 0], [.5, -.107]], cmapColors[0], 5));
  sets.push({ type: 'line', data: pairsToPoints([[0, 0], [.5, -.107], [1, 0], [1, 6], [.5, 6.107], [0, 6], [0, 0]]), borderColor: '#333', borderWidth: 1.5, pointRadius: 0, order: 1, clip: false });
  const barAxis = sciAxis(-.107, 6.107, barTicks.map(v => v - .055), v => String(Math.round(v + .055)), 1);
  barAxis.ticks.font = { family: '"Liberation Sans"', size: 19 };
  addChart(box, { l: 2, t: 4, r: 30, b: 4 }, {
    type: 'scatter',
    data: { datasets: sets },
    options: {
      plugins: { panel: { frame: false } },
      scales: {
        x: { type: 'linear', min: 0, max: 1, display: false },
        // the printed labels sit a little below the bar levels they name
        y: Object.assign(barAxis, { position: 'right', grid: { display: false }, border: { display: false } })
      }
    }
  });
}

// ---------- panel b ----------
addChart({ l: 73, t: 550, r: 600, b: 909 }, { l: 73, t: 10, r: 30, b: 69 }, {
  type: 'scatter',
  data: { datasets: [
    { data: columnsToPoints(redCrossByDay), pointStyle: 'cross', pointRadius: 6, pointBorderWidth: 1.8, borderColor: '#f50000', order: 4, clip: false },
    { data: zipPoints(redCircleDay, redCircleNitrite), backgroundColor: '#f50000', pointRadius: 6, borderWidth: 0, order: 3, clip: false },
    { data: columnsToPoints(blueCrossByDay), pointStyle: 'cross', pointRadius: 6, pointBorderWidth: 1.8, borderColor: '#1400e6', order: 2, clip: false },
    { data: zipPoints(blueCircleDay, blueCircleNitrite), backgroundColor: '#1400e6', pointRadius: 6, borderWidth: 0, order: 1, clip: false }
  ] },
  options: {
    scales: {
      x: sciAxis(0, 56, [0, 7, 14, 21, 28, 35, 42, 49, 56], (v, i) => i % 2 === 0 ? dateLabels[i / 2] : '', 7, { text: 'Date', padding: { top: 8, bottom: 2 } }),
      y: sciAxis(0, 6, [0, 1, 2, 3, 4, 5, 6], evenLabel, 9, { text: 'Nitrite (μM)', padding: { top: 10, bottom: 0 } })
    }
  }
});

// ---------- panel c ----------
addChart({ l: 765, t: 47, r: 1302, b: 416 }, { l: 62, t: 10, r: 30, b: 68 }, {
  type: 'scatter',
  data: { datasets: [
    { data: zipPoints(redSalinity, redSalNitrite), backgroundColor: '#f50000', pointRadius: 5.5, borderWidth: 0, order: 3, clip: false },
    { data: zipPoints(blueSparseSal, blueSparseNitrite), backgroundColor: '#1400e6', pointRadius: 5.5, borderWidth: 0, order: 2, clip: false },
    { data: zipPoints(blueCloudSal, blueCloudNitrite), backgroundColor: '#1400e6', pointRadius: 5.5, borderWidth: 0, order: 1, clip: false }
  ] },
  options: {
    scales: {
      x: sciAxis(30.5, 33, [30.5, 31, 31.5, 32, 32.5, 33], v => v.toFixed(1), 12, { text: 'Salinity', padding: { top: 4, bottom: 2 } }),
      y: sciAxis(0, 6, [0, 1, 2, 3, 4, 5, 6], evenLabel, 12, { text: 'Nitrite (μM)', padding: { top: 0, bottom: 0 } })
    }
  }
});

// ---------- panel d ----------
const sigmaSets = sigmaLines.map(l => ({
  type: 'line', data: pairsToPoints(l), borderColor: '#777', borderWidth: 2, pointRadius: 0, cubicInterpolationMode: 'monotone', order: 5
}));
const sigmaTexts = sigmaLabels.map((t, i) => ({
  text: t, x: sigmaLabelSal[i], y: sigmaLabelTemp[i], angle: sigmaLabelAngle[i], color: '#888', font: 'bold 18px "Liberation Sans"'
}));
addChart({ l: 765, t: 552, r: 1290, b: 908 }, { l: 65, t: 10, r: 30, b: 70 }, {
  type: 'scatter',
  data: { datasets: sigmaSets.concat([
    { data: zipPoints(blackSal, blackTemp), backgroundColor: '#000', pointRadius: 4.5, borderWidth: 0, order: 3 },
    { data: zipPoints(dotSal, dotTemp), backgroundColor: dotNitrite.map(nitriteColor), pointRadius: 6.5, borderWidth: 0, order: 2 }
  ]) },
  options: {
    plugins: { panel: {
      boxes: sigmaLabels.map((t, i) => ({ x: sigmaLabelSal[i], y: sigmaLabelTemp[i], angle: sigmaLabelAngle[i], w: 46 })),
      texts: sigmaTexts.concat([
        { text: 'σ', x: 32.469, y: 6.55, font: '36px "Liberation Sans"', color: '#222' },
        { text: '0', x: 32.481, y: 6.33, font: 'bold 20px "Liberation Sans"', color: '#222' },
        { text: 'Potential Temperature (°C)', x: 31.84, y: 2.75, angle: -90, font: '20px "Liberation Sans"', color: '#222' }
      ])
    } },
    scales: {
      x: sciAxis(31.9, 32.5, [31.9, 32, 32.1, 32.2, 32.3, 32.4, 32.5], v => v === 32 ? '32' : v.toFixed(1), 10, { text: 'Salinity', padding: { top: 8, bottom: 2 } }),
      y: sciAxis(-1, 7, [-1, 0, 1, 2, 3, 4, 5, 6, 7], evenLabel, 11)
    }
  }
});

addColorBar({ l: 616, t: 76, r: 632, b: 424 });
addColorBar({ l: 1309, t: 554, r: 1325, b: 902 });

// headings on their own full page layer
const labelCanvas = document.createElement('canvas');
labelCanvas.width = 1350;
labelCanvas.height = 975;
labelCanvas.style.left = '0px';
labelCanvas.style.top = '0px';
page.appendChild(labelCanvas);
const lc = labelCanvas.getContext('2d');
lc.textAlign = 'center';
lc.textBaseline = 'middle';
lc.fillStyle = '#111';
lc.font = 'bold 30px "Liberation Sans"';
lc.fillText('a', 19, 19);
lc.fillText('b', 20, 532);
lc.fillText('c', 716, 18);
lc.fillText('d', 717, 532);
lc.font = 'bold 21px "Liberation Sans"';
lc.fillText('Nitrite', 623, 31);
lc.fillText('Nitrite', 1310, 511);
lc.font = '20px "Liberation Sans"';
lc.fillText('(μM)', 624, 56);
lc.fillText('(μM)', 1311, 536);
</script>
</body>
</html>
